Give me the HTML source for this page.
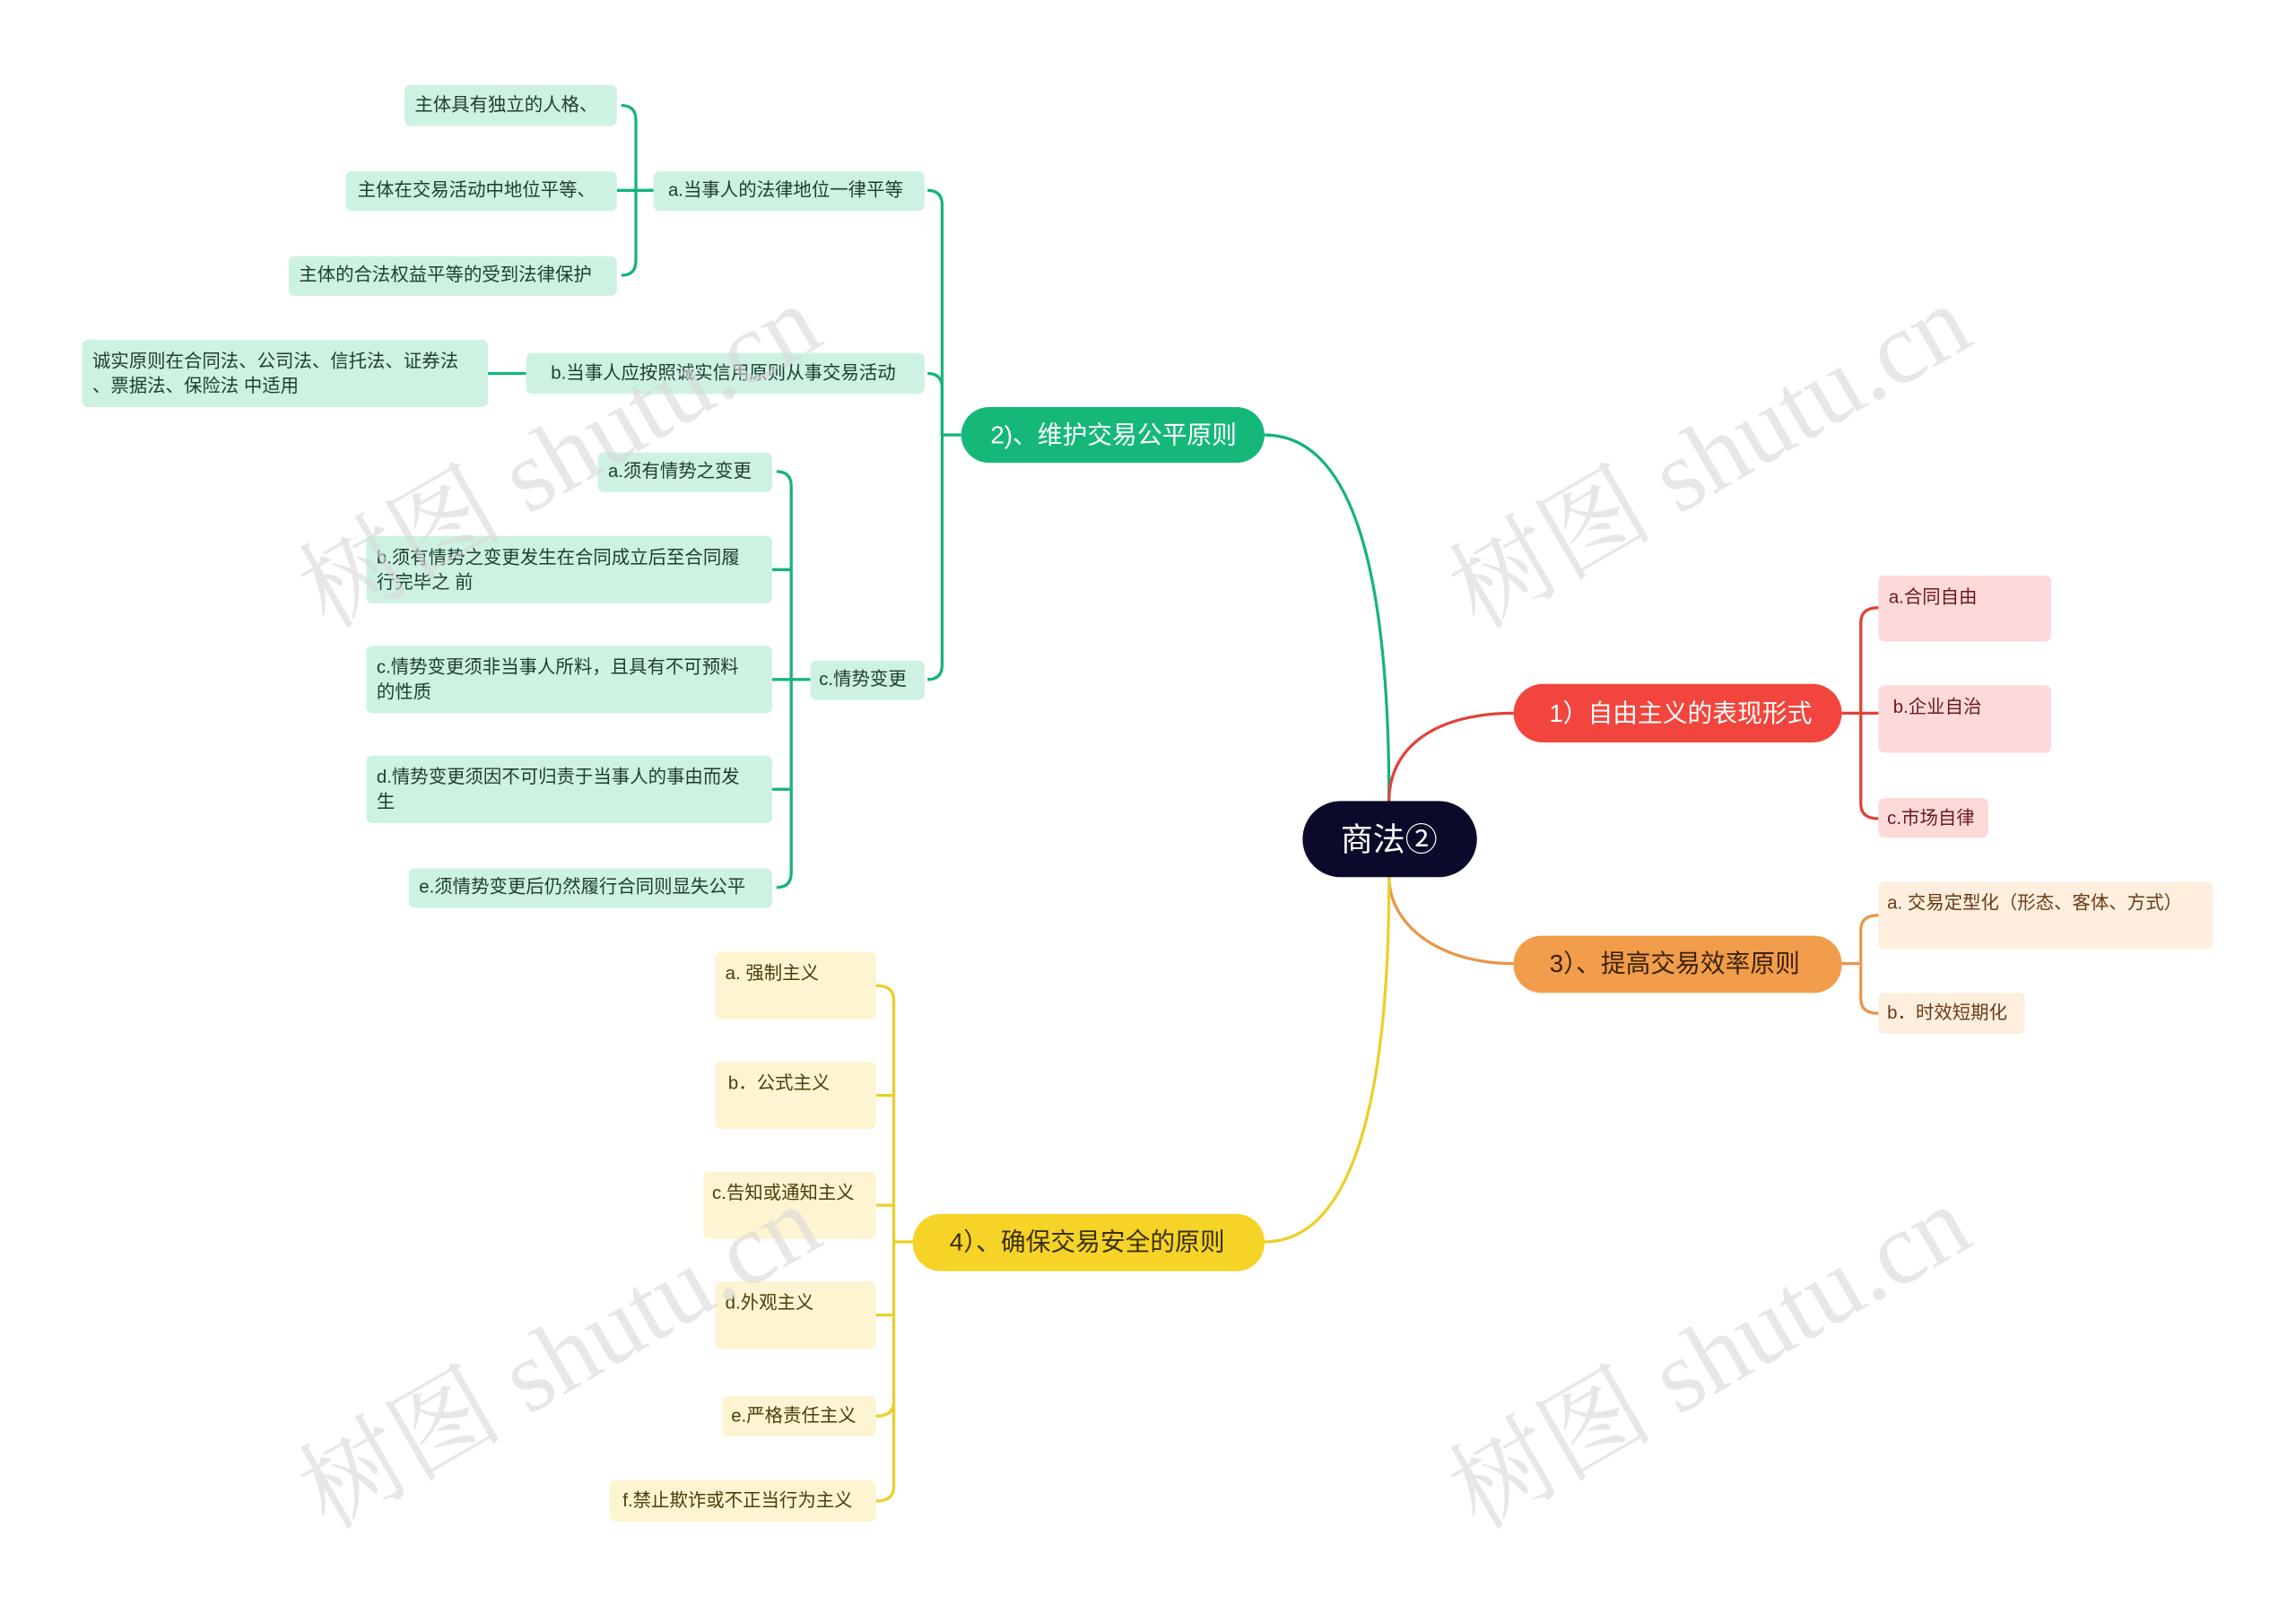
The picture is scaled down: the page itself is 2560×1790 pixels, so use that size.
<!DOCTYPE html>
<html><head><meta charset="utf-8"><style>
html,body{margin:0;padding:0;background:#fff}
svg{display:block}
text{font-family:"Liberation Sans","Noto Sans CJK SC",sans-serif;dominant-baseline:central}
.g{fill:#cdf2e1}.gt{fill:#1e3d30;font-size:12.5px}
.r{fill:#fdd9d9}.rt{fill:#6b1a1a;font-size:12.5px}
.o{fill:#fdeede}.ot{fill:#6b3a14;font-size:12.5px}
.y{fill:#fdf5d2}.yt{fill:#4a3d0a;font-size:12.5px}
.wm{fill:#d8d8d8;font-size:70px;font-family:"Liberation Serif","Noto Serif CJK SC",serif;opacity:.6}
</style></head><body>
<svg width="2560" height="1790" viewBox="0 0 1567 1096" preserveAspectRatio="none" xmlns="http://www.w3.org/2000/svg">
<g fill="none" stroke-width="2">
<path d="M948,547 C948,380 920,297 863,297" stroke="#16b47a"/>
<path d="M948,547 C948,510 980,487 1033,487" stroke="#e0423a"/>
<path d="M948,599 C948,630 980,658 1033,658" stroke="#e8964a"/>
<path d="M948,599 C948,760 920,848 863,848" stroke="#ecce28"/>
<g stroke="#16b47a">
<path d="M656,297 L643,297 L643,140 Q643,130 633,130"/>
<path d="M643,297 L643,265 Q643,255 633,255"/>
<path d="M643,297 L643,454 Q643,464 633,464"/>
<path d="M446,130 L434,130 M434,130 L434,82 Q434,72 424,72 M434,130 L421,130 M434,130 L434,178 Q434,188 424,188"/>
<path d="M359,255 L333,255"/>
<path d="M553,464 L540,464 L540,332 Q540,322 530,322 M540,389 L527,389 M540,464 L527,464 M540,464 L540,539 L527,539 M540,464 L540,596 Q540,606 530,606"/>
</g>
<g stroke="#e0423a">
<path d="M1257,487 L1270,487 L1270,425 Q1270,415 1282,415 M1270,487 L1282,487 M1270,487 L1270,549 Q1270,559 1282,559"/>
</g>
<g stroke="#e8964a">
<path d="M1257,658 L1270,658 L1270,635 Q1270,625 1282,625 M1270,658 L1270,682 Q1270,692 1282,692"/>
</g>
<g stroke="#ecce28">
<path d="M863,848 L610,848"/>
<path d="M610,848 L610,683 Q610,673 598,673 M610,748 L598,748 M610,823 L598,823 M610,898 L598,898 M610,848 L610,957 Q610,967 598,967 M610,848 L610,1015 Q610,1025 598,1025"/>
</g>
</g>
<rect x="889" y="547" width="119" height="52" rx="26" fill="#0a0a2a"/>
<text x="948" y="573" fill="#fff" font-size="22" text-anchor="middle">商法②</text>
<rect x="1033" y="467" width="224" height="40" rx="20" fill="#f2453d"/>
<text x="1147" y="487" fill="#fff" font-size="17" text-anchor="middle">1）自由主义的表现形式</text>
<rect x="1033" y="639" width="224" height="39" rx="19" fill="#f29d4b"/>
<text x="1143" y="658" fill="#3a2208" font-size="17" text-anchor="middle">3）、提高交易效率原则</text>
<rect x="656" y="278" width="207" height="38" rx="19" fill="#16b87a"/>
<text x="760" y="297" fill="#fff" font-size="17" text-anchor="middle">2)、维护交易公平原则</text>
<rect x="623" y="829" width="240" height="39" rx="19" fill="#f5d327"/>
<text x="742" y="848" fill="#3a3008" font-size="17" text-anchor="middle">4）、确保交易安全的原则</text>
<rect class="r" x="1282" y="393" width="118" height="45" rx="4"/><text class="rt" x="1289" y="408">a.合同自由</text>
<rect class="r" x="1282" y="468" width="118" height="46" rx="4"/><text class="rt" x="1292" y="483">b.企业自治</text>
<rect class="r" x="1282" y="545" width="75" height="27" rx="4"/><text class="rt" x="1288" y="559">c.市场自律</text>
<rect class="o" x="1282" y="602" width="228" height="46" rx="4"/><text class="ot" x="1288" y="617">a. 交易定型化（形态、客体、方式）</text>
<rect class="o" x="1282" y="678" width="100" height="28" rx="4"/><text class="ot" x="1288" y="692">b．时效短期化</text>
<rect class="g" x="446" y="117" width="185" height="27" rx="4"/><text class="gt" x="456" y="130">a.当事人的法律地位一律平等</text>
<rect class="g" x="359" y="241" width="272" height="28" rx="4"/><text class="gt" x="376" y="255">b.当事人应按照诚实信用原则从事交易活动</text>
<rect class="g" x="553" y="451" width="78" height="27" rx="4"/><text class="gt" x="559" y="464">c.情势变更</text>
<rect class="g" x="276" y="58" width="145" height="28" rx="4"/><text class="gt" x="283" y="72">主体具有独立的人格、</text>
<rect class="g" x="236" y="117" width="185" height="27" rx="4"/><text class="gt" x="244" y="130">主体在交易活动中地位平等、</text>
<rect class="g" x="197" y="175" width="224" height="27" rx="4"/><text class="gt" x="204" y="188">主体的合法权益平等的受到法律保护</text>
<rect class="g" x="56" y="232" width="277" height="46" rx="4"/><text class="gt" x="63" y="247">诚实原则在合同法、公司法、信托法、证券法</text><text class="gt" x="63" y="264">、票据法、保险法 中适用</text>
<rect class="g" x="408" y="309" width="119" height="27" rx="4"/><text class="gt" x="415" y="322">a.须有情势之变更</text>
<rect class="g" x="250" y="366" width="277" height="46" rx="4"/><text class="gt" x="257" y="381">b.须有情势之变更发生在合同成立后至合同履</text><text class="gt" x="257" y="398">行完毕之 前</text>
<rect class="g" x="250" y="441" width="277" height="46" rx="4"/><text class="gt" x="257" y="456">c.情势变更须非当事人所料，且具有不可预料</text><text class="gt" x="257" y="473">的性质</text>
<rect class="g" x="250" y="516" width="277" height="46" rx="4"/><text class="gt" x="257" y="531">d.情势变更须因不可归责于当事人的事由而发</text><text class="gt" x="257" y="548">生</text>
<rect class="g" x="279" y="593" width="248" height="27" rx="4"/><text class="gt" x="286" y="606">e.须情势变更后仍然履行合同则显失公平</text>
<rect class="y" x="488" y="650" width="110" height="46" rx="4"/><text class="yt" x="495" y="665">a. 强制主义</text>
<rect class="y" x="488" y="725" width="110" height="46" rx="4"/><text class="yt" x="497" y="740">b．公式主义</text>
<rect class="y" x="480" y="800" width="118" height="46" rx="4"/><text class="yt" x="486" y="815">c.告知或通知主义</text>
<rect class="y" x="488" y="875" width="110" height="46" rx="4"/><text class="yt" x="495" y="890">d.外观主义</text>
<rect class="y" x="493" y="953" width="105" height="28" rx="4"/><text class="yt" x="499" y="967">e.严格责任主义</text>
<rect class="y" x="416" y="1011" width="182" height="28" rx="4"/><text class="yt" x="425" y="1025">f.禁止欺诈或不正当行为主义</text>
<text class="wm" transform="translate(212,410) rotate(-30)">树图 shutu.cn</text>
<text class="wm" transform="translate(997,410) rotate(-30)">树图 shutu.cn</text>
<text class="wm" transform="translate(212,1025) rotate(-30)">树图 shutu.cn</text>
<text class="wm" transform="translate(997,1025) rotate(-30)">树图 shutu.cn</text>
</svg>
</body></html>
